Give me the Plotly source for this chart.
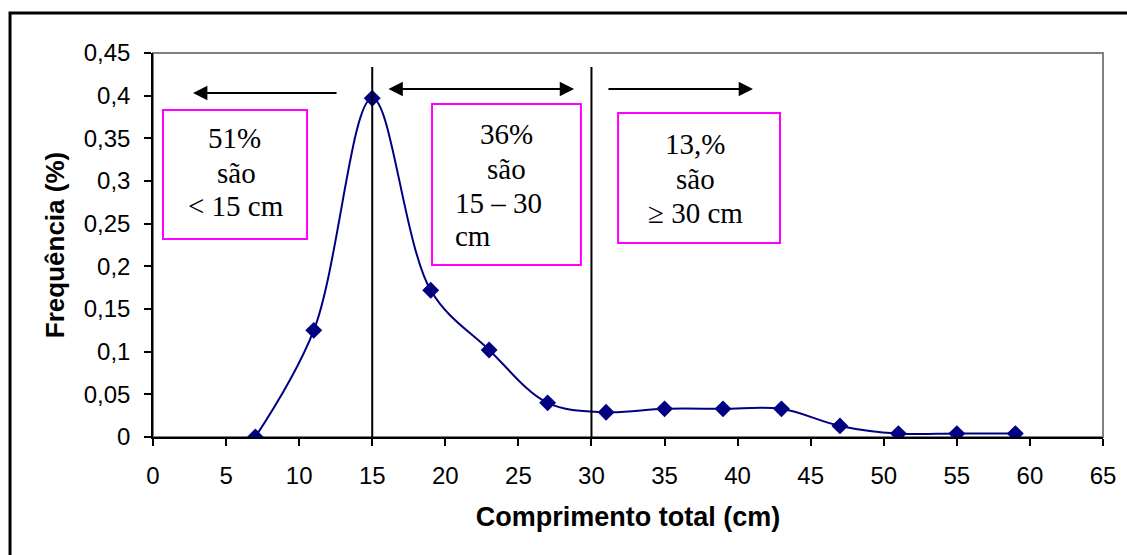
import plotly.graph_objects as go

# Length classes (cm) and relative frequency
comprimento = [7, 11, 15, 19, 23, 27, 31, 35, 39, 43, 47, 51, 55, 59]
frequencia = [0.0, 0.125, 0.397, 0.172, 0.102, 0.040, 0.029, 0.033, 0.033, 0.033, 0.013, 0.004, 0.004, 0.004]

x_ticks = list(range(0, 70, 5))
y_ticks = [0, 0.05, 0.1, 0.15, 0.2, 0.25, 0.3, 0.35, 0.4, 0.45]
y_tick_labels = ["0", "0,05", "0,1", "0,15", "0,2", "0,25", "0,3", "0,35", "0,4", "0,45"]

# Class limits marked on the chart
limites = [15, 30]

NAVY = "#000080"
MAGENTA = "#FF00FF"
SERIF = "Liberation Serif"
SANS = "Liberation Sans, Arial, sans-serif"

fig = go.Figure()
fig.add_trace(go.Scatter(
    x=comprimento, y=frequencia,
    mode="lines+markers",
    line=dict(color=NAVY, width=2, shape="spline", smoothing=1.0),
    marker=dict(symbol="diamond", size=13, color=NAVY),
    showlegend=False,
))

shapes = []
# plot area frame (grey top/right)
shapes.append(dict(type="rect", xref="paper", yref="paper", x0=0, x1=1, y0=0, y1=1,
                   line=dict(color="#808080", width=2), layer="below"))
# outer frame (runs past the right and bottom edges)
shapes.append(dict(type="rect", xref="paper", yref="paper", x0=-0.1505, x1=1.2,
                   y0=-0.4, y1=1.104, line=dict(color="black", width=3), layer="below"))
# vertical class limits
for xv in limites:
    shapes.append(dict(type="line", xref="x", yref="y", x0=xv, x1=xv, y0=0, y1=0.4336,
                       line=dict(color="black", width=2)))
# text boxes
boxes = [(0.684, 10.54, 0.2320, 0.3832), (19.09, 29.28, 0.2016, 0.3902), (31.82, 42.9, 0.2273, 0.3797)]
for x0, x1, y0, y1 in boxes:
    shapes.append(dict(type="rect", xref="x", yref="y", x0=x0, x1=x1, y0=y0, y1=y1,
                       line=dict(color=MAGENTA, width=2), fillcolor="white"))

annotations = []
# arrows
arrows = [
    (2.74, 0.4031, 12.66, 0.4031, "end"),
    (28.81, 0.4078, 16.01, 0.4078, "end+start"),
    (41.05, 0.4078, 31.06, 0.4078, "end"),
]
for hx, hy, tx, ty, side in arrows:
    annotations.append(dict(x=hx, y=hy, ax=tx, ay=ty, xref="x", yref="y", axref="x", ayref="y",
                            text="", showarrow=True, arrowhead=2, arrowsize=1.3, arrowwidth=2.2,
                            arrowcolor="black", arrowside=side))

# box texts (x, y, text, anchor)
box_text = [
    (5.6, 0.3507, "51%", "center"),
    (5.7, 0.3094, "são", "center"),
    (5.7, 0.2707, "< 15 cm", "center"),
    (24.2, 0.3550, "36%", "center"),
    (24.2, 0.3141, "são", "center"),
    (20.5, 0.2742, "15 – 30", "left"),
    (20.5, 0.2355, "cm", "left"),
    (37.1, 0.3434, "13,%", "center"),
    (37.1, 0.3024, "são", "center"),
    (37.1, 0.2625, "≥ 30 cm", "center"),
]
for x, y, t, anc in box_text:
    annotations.append(dict(x=x, y=y, xref="x", yref="y", text=t, showarrow=False,
                            xanchor=anc, yanchor="middle",
                            font=dict(family=SERIF, size=29, color="black")))

fig.update_layout(
    width=1127, height=555,
    margin=dict(l=153, r=24, t=53, b=118),
    paper_bgcolor="white", plot_bgcolor="white",
    shapes=shapes, annotations=annotations,
    font=dict(family=SANS, color="black"),
    xaxis=dict(
        range=[0, 65], tickvals=x_ticks, ticks="outside", ticklen=7, tickcolor="black",
        tickwidth=1.5, showline=True, linecolor="black", linewidth=1.5, showgrid=False,
        zeroline=False, tickfont=dict(size=24, family=SANS), ticklabelstandoff=9,
        title=dict(text="<b>Comprimento total (cm)</b>", font=dict(size=27, family=SANS), standoff=20),
    ),
    yaxis=dict(
        range=[0, 0.45], tickvals=y_ticks, ticktext=y_tick_labels, ticks="outside", ticklen=7,
        tickcolor="black", tickwidth=1.5, showline=True, linecolor="black", linewidth=1.5,
        showgrid=False, zeroline=False, tickfont=dict(size=24, family=SANS), ticklabelstandoff=9,
        title=dict(text="<b>Frequência (%)</b>", font=dict(size=26, family=SANS), standoff=12),
    ),
)

fig.write_html("out.html")
